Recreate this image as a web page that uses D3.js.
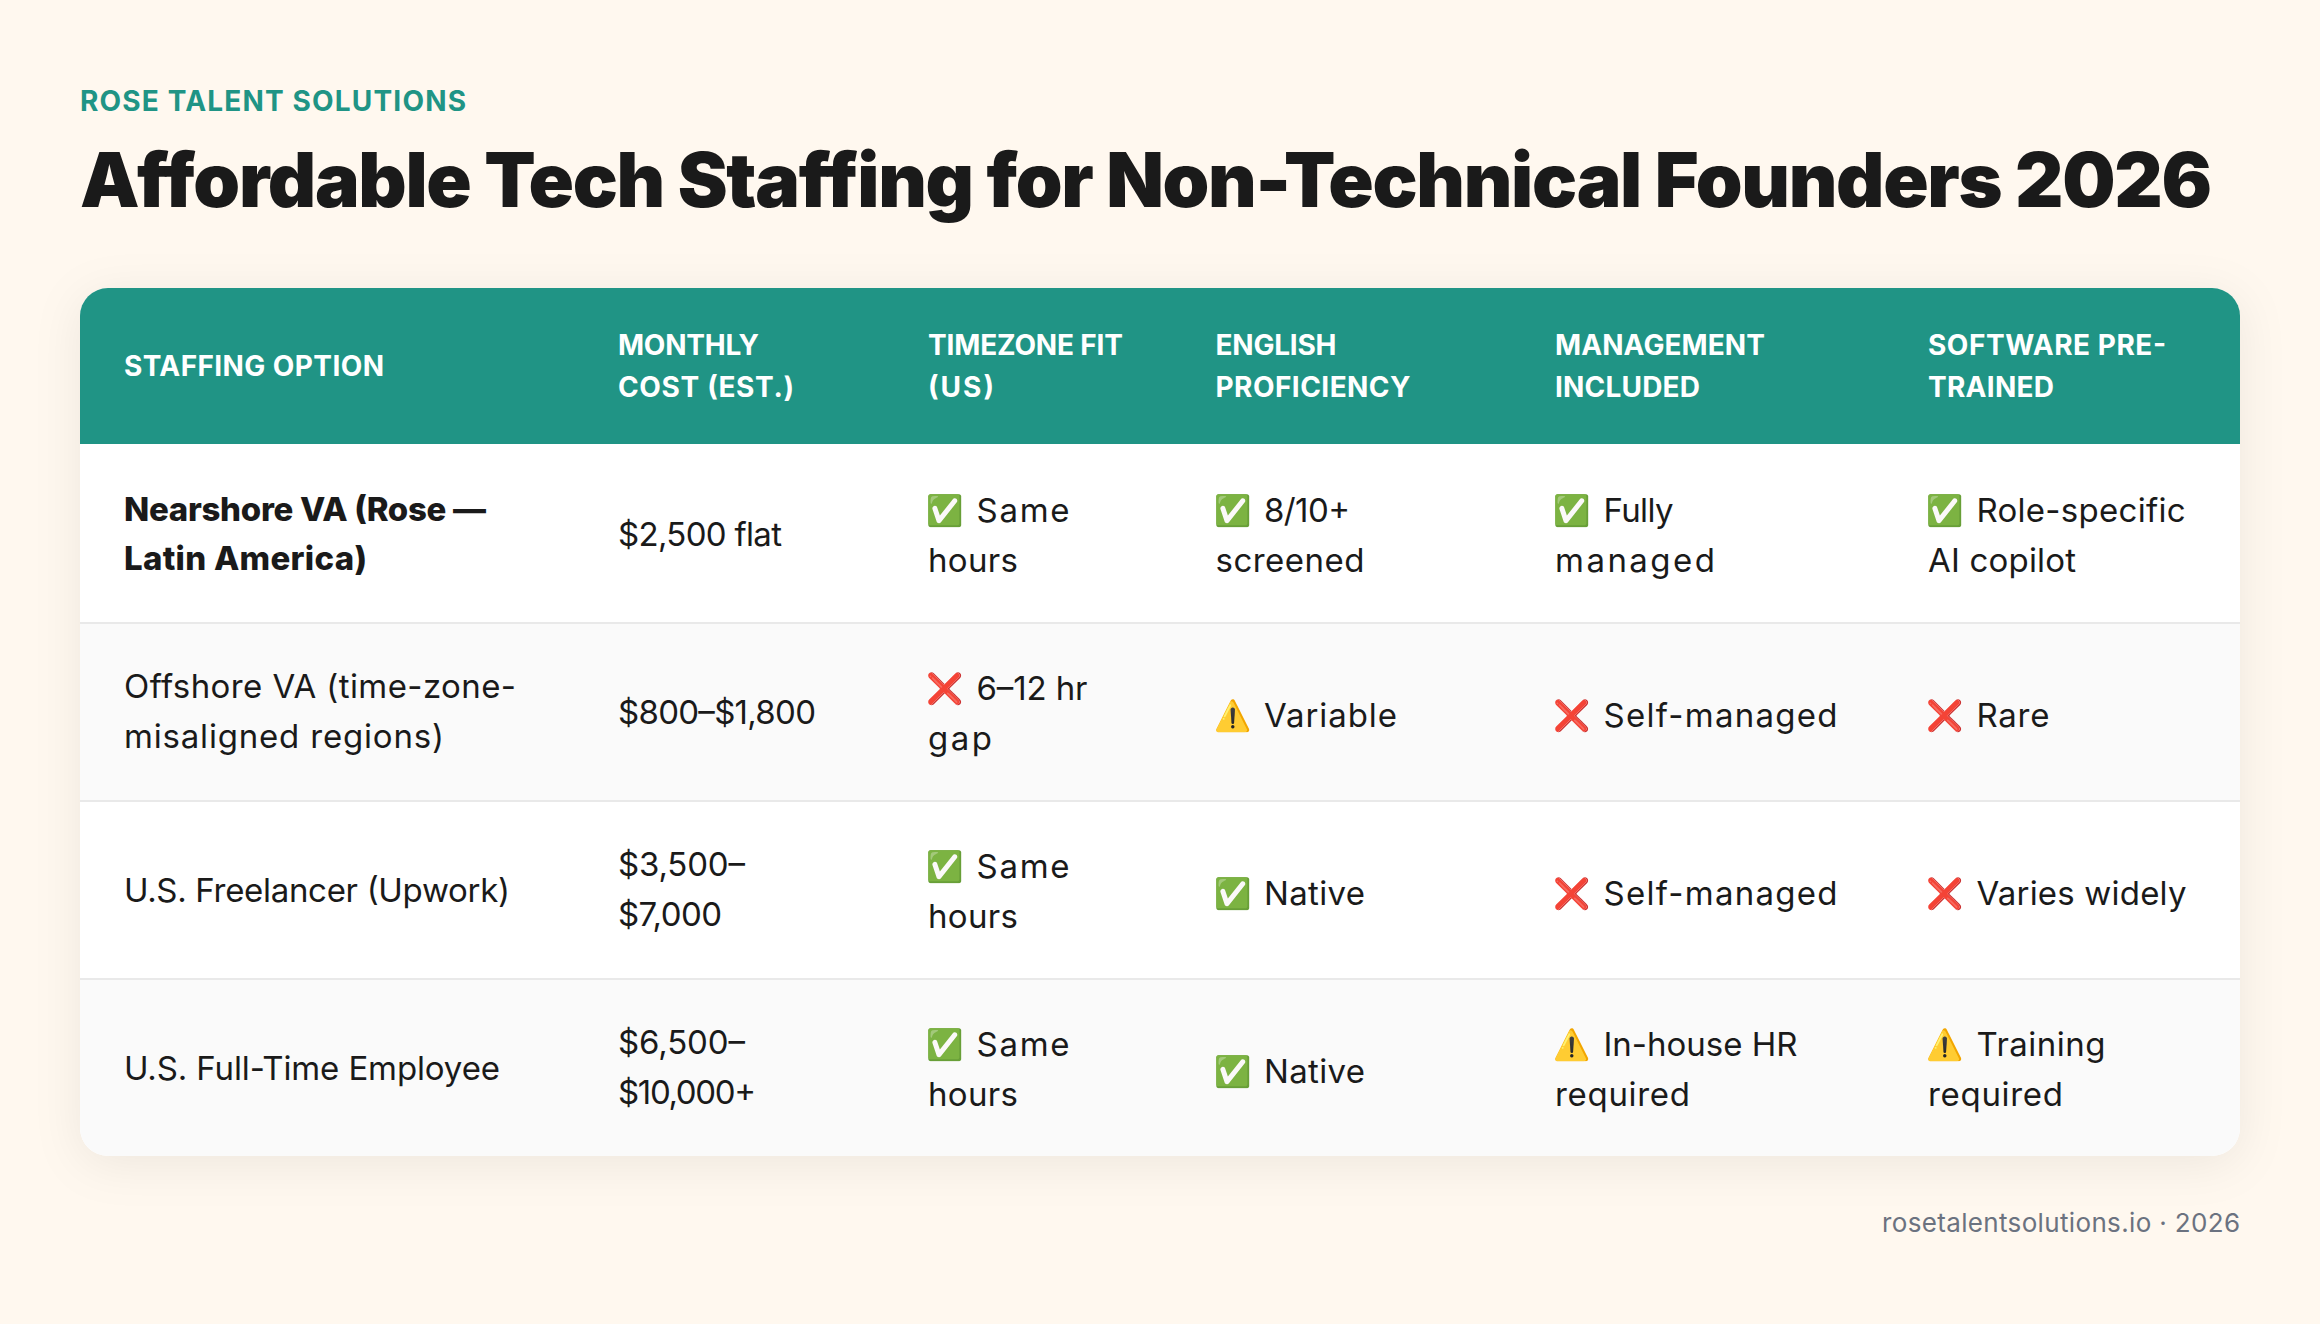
<!DOCTYPE html>
<html lang="en">
<head>
<meta charset="UTF-8">
<title>Affordable Tech Staffing for Non-Technical Founders 2026</title>
<script src="https://d3js.org/d3.v7.min.js"></script>
<style>
  body { margin: 0; background: #fff8ef; }
  svg { display: block; }
  text { font-family: Inter, "Noto Sans", sans-serif; fill: #1a1a1a; }
</style>
</head>
<body>
<svg width="2320" height="1324"></svg>
<script>
const eyebrow = "ROSE TALENT SOLUTIONS";
const title = "Affordable Tech Staffing for Non-Technical Founders 2026";
const footer = "rosetalentsolutions.io · 2026";

const headers = [
  ["STAFFING OPTION"],
  ["MONTHLY", "COST (EST.)"],
  ["TIMEZONE FIT", "(US)"],
  ["ENGLISH", "PROFICIENCY"],
  ["MANAGEMENT", "INCLUDED"],
  ["SOFTWARE PRE-", "TRAINED"]
];
const rowKeys = ["nearshore", "offshore", "freelancer", "employee"];
const options = [
  ["Nearshore VA (Rose —", "Latin America)"],
  ["Offshore VA (time-zone-", "misaligned regions)"],
  ["U.S. Freelancer (Upwork)"],
  ["U.S. Full-Time Employee"]
];
const costs = [["$2,500 flat"], ["$800–$1,800"], ["$3,500–", "$7,000"], ["$6,500–", "$10,000+"]];
const timezone = [["✅ Same", "hours"], ["❌ 6–12 hr", "gap"], ["✅ Same", "hours"], ["✅ Same", "hours"]];
const english = [["✅ 8/10+", "screened"], ["⚠️ Variable"], ["✅ Native"], ["✅ Native"]];
const management = [["✅ Fully", "managed"], ["❌ Self-managed"], ["❌ Self-managed"], ["⚠️ In-house HR", "required"]];
const software = [["✅ Role-specific", "AI copilot"], ["❌ Rare"], ["❌ Varies widely"], ["⚠️ Training", "required"]];
const columns = [options, costs, timezone, english, management, software];

// the original face is wider in places, so each string is fitted to its measured width
const fit = new Map(Object.entries({
  "STAFFING OPTION": 260, "MONTHLY": 141, "COST (EST.)": 176, "TIMEZONE FIT": 195, "(US)": 66,
  "ENGLISH": 121, "PROFICIENCY": 195, "MANAGEMENT": 210, "INCLUDED": 145, "SOFTWARE PRE-": 238, "TRAINED": 126,
  "Nearshore VA (Rose —": 362, "Latin America)": 243, "Offshore VA (time-zone-": 392, "misaligned regions)": 320,
  "U.S. Freelancer (Upwork)": 386, "U.S. Full-Time Employee": 376,
  "$2,500 flat": 164, "$800–$1,800": 198, "$3,500–": 127, "$7,000": 104, "$6,500–": 127, "$10,000+": 138,
  "Same": 93, "hours": 90, "6–12 hr": 111, "gap": 64, "8/10+": 86, "screened": 149, "Variable": 133, "Native": 101,
  "Fully": 70, "managed": 160, "Self-managed": 234, "In-house HR": 194, "required": 135,
  "Role-specific": 209, "AI copilot": 148, "Rare": 73, "Varies widely": 210, "Training": 129
}));

const svg = d3.select("svg");
const x = d3.scaleOrdinal().domain(d3.range(6)).range([124, 618, 928, 1215.5, 1555, 1928]);
const y = d3.scaleBand().domain(rowKeys).range([444, 1156]);
const lineHeight = 50;
const markGap = 48.5;

const defs = svg.append("defs");
defs.append("clipPath").attr("id", "card").append("rect")
  .attr("x", 80).attr("y", 288).attr("width", 2160).attr("height", 868).attr("rx", 28);

svg.append("rect").attr("x", 80).attr("y", 288).attr("width", 2160).attr("height", 868).attr("rx", 28)
  .attr("fill", "#fff").style("filter", "drop-shadow(0 8px 24px rgba(0,0,0,0.07))");

const card = svg.append("g").attr("clip-path", "url(#card)");
card.append("rect").attr("x", 80).attr("y", 288).attr("width", 2160).attr("height", 156).attr("fill", "#209485");
card.selectAll(".row").data(rowKeys).join("rect")
  .attr("x", 80).attr("y", d => y(d)).attr("width", 2160).attr("height", y.bandwidth())
  .attr("fill", (d, i) => i % 2 ? "#fafafa" : "#fff");
card.selectAll(".sep").data(rowKeys.slice(1)).join("rect")
  .attr("x", 80).attr("y", d => y(d)).attr("width", 2160).attr("height", 2).attr("fill", "#e9e9e9");

svg.append("text").attr("x", 80).attr("y", 111).text(eyebrow)
  .attr("font-size", 28).attr("font-weight", 700)
  .attr("textLength", 386).attr("lengthAdjust", "spacing").style("fill", "#209485");
svg.append("text").attr("x", 80).attr("y", 207).text(title)
  .attr("font-size", 75).attr("font-weight", 900)
  .attr("textLength", 2132).attr("lengthAdjust", "spacing");
svg.append("text").attr("x", 2240).attr("y", 1232).attr("text-anchor", "end").text(footer)
  .attr("font-size", 26).attr("textLength", 358).attr("lengthAdjust", "spacing").style("fill", "#6b7280");

headers.forEach((lines, c) => {
  svg.append("g").selectAll("text").data(lines).join("text")
    .attr("x", x(c))
    .attr("y", (d, i) => 376 + (i - (lines.length - 1) / 2) * 42)
    .text(d => d)
    .attr("font-size", 28).attr("font-weight", 700)
    .attr("textLength", d => fit.get(d)).attr("lengthAdjust", "spacing")
    .style("fill", "#fff");
});

const marked = /^\p{Extended_Pictographic}\S* /u;

columns.forEach((col, c) => {
  col.forEach((lines, r) => {
    const cy = y(rowKeys[r]) + y.bandwidth() / 2;
    const bold = c === 0 && r === 0;
    const offset = (c < 2 ? 12 : 14) + (lines.length === 1 ? (c < 2 ? 1 : 2) : 0);
    const rows = lines.map((line, i) => {
      const head = line.match(marked);
      return {
        mark: head ? head[0].trim() : null,
        label: head ? line.slice(head[0].length) : line,
        baseline: cy + offset + (i - (lines.length - 1) / 2) * (bold ? 49 : lineHeight)
      };
    });
    const g = svg.append("g");
    g.selectAll(".label").data(rows).join("text")
      .attr("x", d => x(c) + (d.mark ? markGap : 0))
      .attr("y", d => d.baseline)
      .text(d => d.label)
      .attr("font-size", 33)
      .attr("font-weight", bold ? 800 : 400)
      .attr("textLength", d => fit.get(d.label)).attr("lengthAdjust", "spacing");
    g.selectAll(".mark").data(rows.filter(d => d.mark)).join("text")
      .attr("x", x(c) - 2)
      .attr("y", d => d.baseline - 1)
      .text(d => d.mark)
      .attr("font-size", 30);
  });
});
</script>
</body>
</html>
